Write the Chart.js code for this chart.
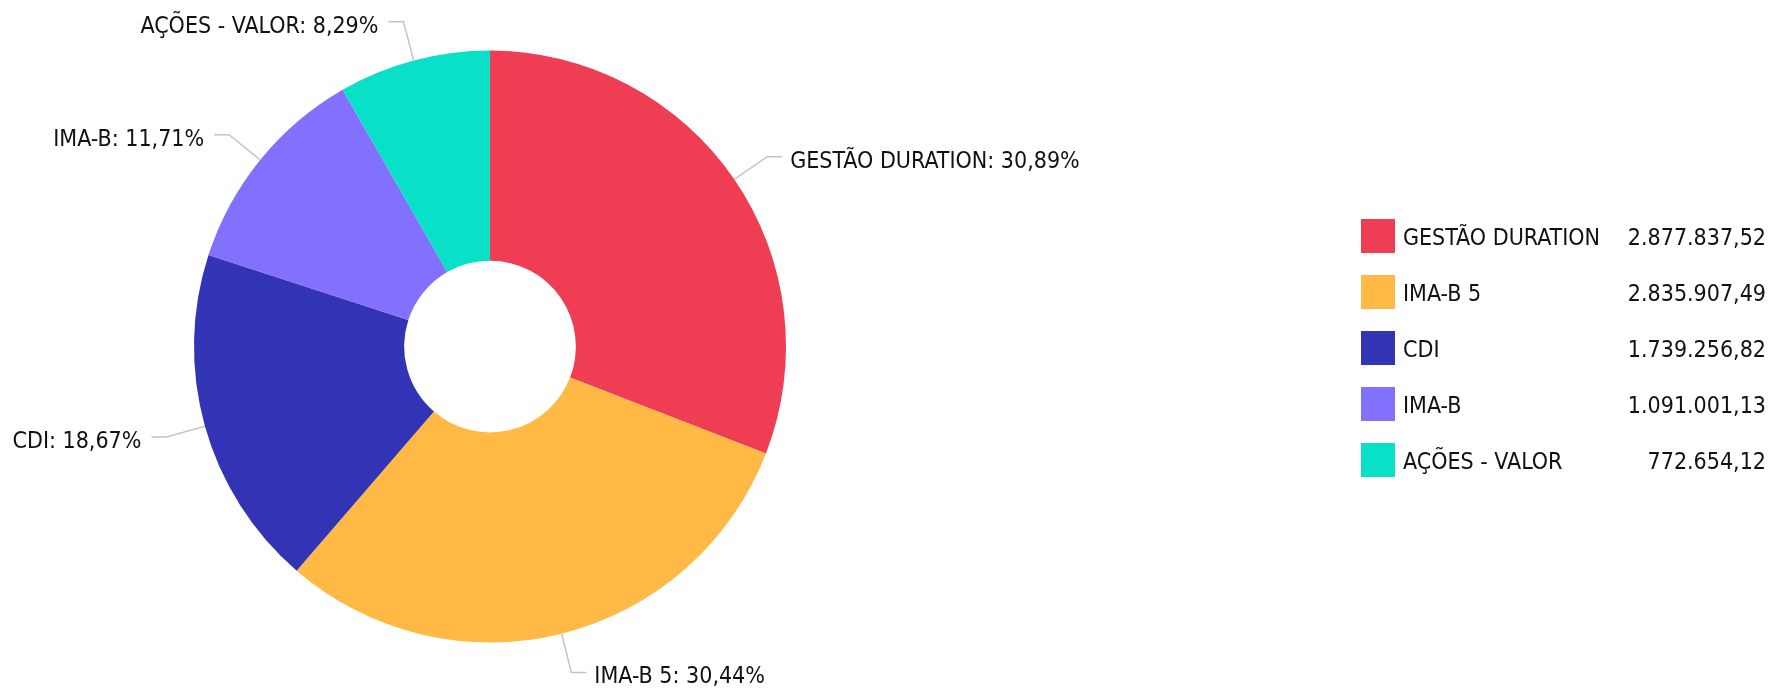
<!DOCTYPE html>
<html>
<head>
<meta charset="utf-8">
<script src="https://cdn.jsdelivr.net/npm/chart.js@4.4.0/dist/chart.umd.min.js"></script>
<style>
  html, body { margin: 0; padding: 0; background: #fff; }
  #wrap { width: 1773px; height: 689px; }
</style>
</head>
<body>
<div id="wrap"><canvas id="pie"></canvas></div>
<script>
const labels = ["GESTÃO DURATION", "IMA-B 5", "CDI", "IMA-B", "AÇÕES - VALOR"];
const values = [2877837.52, 2835907.49, 1739256.82, 1091001.13, 772654.12];
const colors = ["#EF3D53", "#FFB944", "#3333B6", "#8270FF", "#08E0C8"];

const FONT = "23px 'DejaVu Sans Condensed', 'DejaVu Sans', sans-serif";

function fmtMoney(v) {
  const parts = v.toFixed(2).split(".");
  const int = parts[0].replace(/\B(?=(\d{3})+(?!\d))/g, ".");
  return int + "," + parts[1];
}

function fmtPct(v, total) {
  return (v / total * 100).toFixed(2).replace(".", ",") + "%";
}

// labels outside the slices with leader lines
const outLabels = {
  id: "outLabels",
  afterDatasetsDraw(chart) {
    const ctx = chart.ctx;
    const meta = chart.getDatasetMeta(0);
    const total = values.reduce((a, b) => a + b, 0);
    ctx.save();
    ctx.font = FONT;
    ctx.textBaseline = "middle";
    meta.data.forEach((arc, i) => {
      const mid = (arc.startAngle + arc.endAngle) / 2;
      const r = arc.outerRadius;
      const x0 = arc.x + Math.cos(mid) * r;
      const y0 = arc.y + Math.sin(mid) * r;
      const x1 = arc.x + Math.cos(mid) * (r + 40);
      const y1 = arc.y + Math.sin(mid) * (r + 40);
      const right = Math.cos(mid) >= 0;
      const x2 = x1 + (right ? 15 : -15);
      ctx.strokeStyle = "#c4c4c4";
      ctx.lineWidth = 1.5;
      ctx.beginPath();
      ctx.moveTo(x0, y0);
      ctx.lineTo(x1, y1);
      ctx.lineTo(x2, y1);
      ctx.stroke();
      ctx.fillStyle = "#111";
      ctx.textAlign = right ? "left" : "right";
      ctx.fillText(labels[i] + ": " + fmtPct(values[i], total), x2 + (right ? 8 : -10), y1 + 5);
    });
    ctx.restore();
  }
};

// legend with values on the right
const sideLegend = {
  id: "sideLegend",
  afterDraw(chart) {
    const ctx = chart.ctx;
    ctx.save();
    ctx.font = FONT;
    ctx.textBaseline = "middle";
    labels.forEach((lab, i) => {
      const top = 219 + i * 56;
      ctx.fillStyle = colors[i];
      ctx.fillRect(1361, top, 34, 34);
      ctx.fillStyle = "#111";
      ctx.textAlign = "left";
      ctx.fillText(lab, 1403, top + 20);
      ctx.textAlign = "right";
      ctx.fillText(fmtMoney(values[i]), 1766, top + 20);
    });
    ctx.restore();
  }
};

new Chart(document.getElementById("pie"), {
  type: "doughnut",
  data: {
    labels: labels,
    datasets: [{
      data: values,
      backgroundColor: colors,
      borderWidth: 0,
      hoverOffset: 0,
      radius: 296
    }]
  },
  options: {
    responsive: true,
    maintainAspectRatio: false,
    animation: false,
    cutout: "29%",
    layout: { padding: { left: 0, right: 793, top: 50.5, bottom: 46.5 } },
    plugins: {
      legend: { display: false },
      tooltip: { enabled: false }
    }
  },
  plugins: [outLabels, sideLegend]
});
</script>
</body>
</html>
